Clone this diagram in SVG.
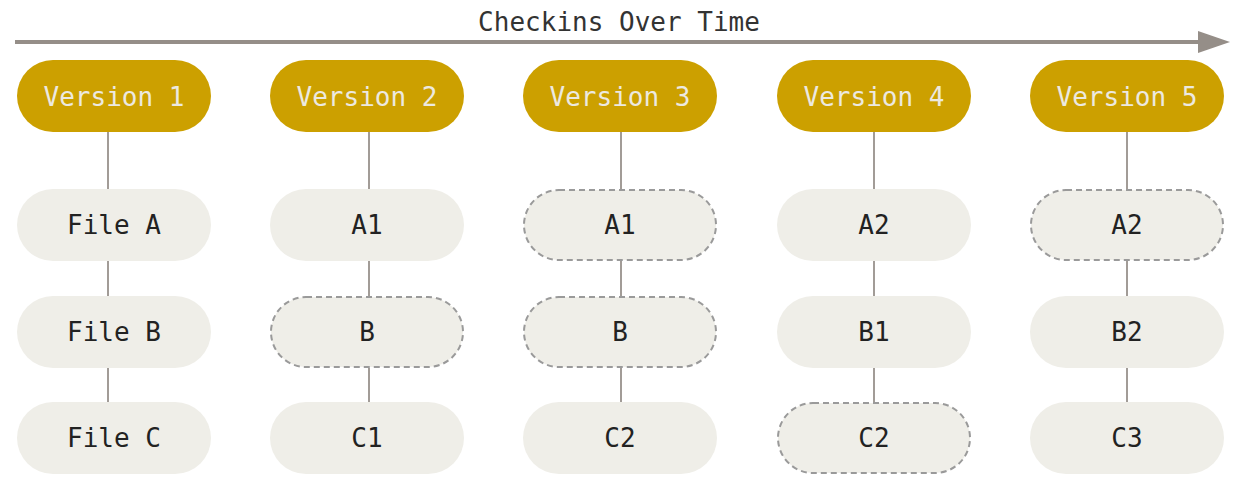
<svg xmlns="http://www.w3.org/2000/svg" width="1234" height="485" viewBox="0 0 1234 485">
<defs>
<style>
.ver{fill:#cca000}
.file{fill:#efeee8}
.dash{fill:#efeee8;stroke:#9a9a9a;stroke-width:2;stroke-dasharray:6 4}
.vt{font-family:"DejaVu Sans Mono",monospace;font-size:26px;fill:#ece9e0;text-anchor:middle;dominant-baseline:central}
.ft{font-family:"DejaVu Sans Mono",monospace;font-size:26px;fill:#222;text-anchor:middle;dominant-baseline:central}
.conn{stroke:#a29c97;stroke-width:2;fill:none}
</style>
</defs>
<rect width="1234" height="485" fill="#fff"/>
<g id="timeline">
<line x1="15" y1="42" x2="1200" y2="42" stroke="#958e88" stroke-width="4"/>
<path d="M1198,31 L1230,42 L1198,53 Z" fill="#958e88"/>
<text x="619" y="22" font-family="DejaVu Sans Mono,monospace" font-size="26" fill="#333" text-anchor="middle" dominant-baseline="central">Checkins Over Time</text>
</g>
<g id="connectors">
<line class="conn" x1="108" y1="132" x2="108" y2="189"/><line class="conn" x1="108" y1="261" x2="108" y2="296"/><line class="conn" x1="108" y1="368" x2="108" y2="402"/>
<line class="conn" x1="369" y1="132" x2="369" y2="189"/><line class="conn" x1="369" y1="261" x2="369" y2="296"/><line class="conn" x1="369" y1="368" x2="369" y2="402"/>
<line class="conn" x1="621" y1="132" x2="621" y2="189"/><line class="conn" x1="621" y1="261" x2="621" y2="296"/><line class="conn" x1="621" y1="368" x2="621" y2="402"/>
<line class="conn" x1="874" y1="132" x2="874" y2="189"/><line class="conn" x1="874" y1="261" x2="874" y2="296"/><line class="conn" x1="874" y1="368" x2="874" y2="402"/>
<line class="conn" x1="1127" y1="132" x2="1127" y2="189"/><line class="conn" x1="1127" y1="261" x2="1127" y2="296"/><line class="conn" x1="1127" y1="368" x2="1127" y2="402"/>
</g>
<g id="v1"><rect class="ver" x="17" y="60" width="194" height="72" rx="36"/><text class="vt" x="114" y="97">Version 1</text></g>
<g id="v2"><rect class="ver" x="270" y="60" width="194" height="72" rx="36"/><text class="vt" x="367" y="97">Version 2</text></g>
<g id="v3"><rect class="ver" x="523" y="60" width="194" height="72" rx="36"/><text class="vt" x="620" y="97">Version 3</text></g>
<g id="v4"><rect class="ver" x="777" y="60" width="194" height="72" rx="36"/><text class="vt" x="874" y="97">Version 4</text></g>
<g id="v5"><rect class="ver" x="1030" y="60" width="194" height="72" rx="36"/><text class="vt" x="1127" y="97">Version 5</text></g>

<g id="v1a"><rect class="file" x="17" y="189" width="194" height="72" rx="36"/><text class="ft" x="114" y="225">File A</text></g>
<g id="v1b"><rect class="file" x="17" y="296" width="194" height="72" rx="36"/><text class="ft" x="114" y="332">File B</text></g>
<g id="v1c"><rect class="file" x="17" y="402" width="194" height="72" rx="36"/><text class="ft" x="114" y="438">File C</text></g>

<g id="v2a"><rect class="file" x="270" y="189" width="194" height="72" rx="36"/><text class="ft" x="367" y="225">A1</text></g>
<g id="v2b"><rect class="dash" x="271" y="297" width="192" height="70" rx="35"/><text class="ft" x="367" y="332">B</text></g>
<g id="v2c"><rect class="file" x="270" y="402" width="194" height="72" rx="36"/><text class="ft" x="367" y="438">C1</text></g>

<g id="v3a"><rect class="dash" x="524" y="190" width="192" height="70" rx="35"/><text class="ft" x="620" y="225">A1</text></g>
<g id="v3b"><rect class="dash" x="524" y="297" width="192" height="70" rx="35"/><text class="ft" x="620" y="332">B</text></g>
<g id="v3c"><rect class="file" x="523" y="402" width="194" height="72" rx="36"/><text class="ft" x="620" y="438">C2</text></g>

<g id="v4a"><rect class="file" x="777" y="189" width="194" height="72" rx="36"/><text class="ft" x="874" y="225">A2</text></g>
<g id="v4b"><rect class="file" x="777" y="296" width="194" height="72" rx="36"/><text class="ft" x="874" y="332">B1</text></g>
<g id="v4c"><rect class="dash" x="778" y="403" width="192" height="70" rx="35"/><text class="ft" x="874" y="438">C2</text></g>

<g id="v5a"><rect class="dash" x="1031" y="190" width="192" height="70" rx="35"/><text class="ft" x="1127" y="225">A2</text></g>
<g id="v5b"><rect class="file" x="1030" y="296" width="194" height="72" rx="36"/><text class="ft" x="1127" y="332">B2</text></g>
<g id="v5c"><rect class="file" x="1030" y="402" width="194" height="72" rx="36"/><text class="ft" x="1127" y="438">C3</text></g>
</svg>
